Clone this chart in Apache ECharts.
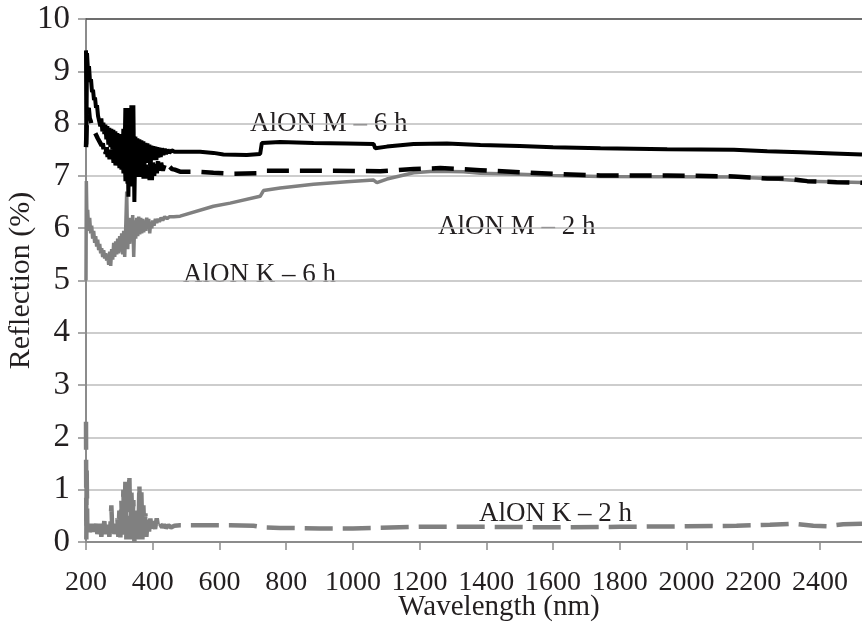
<!DOCTYPE html>
<html>
<head>
<meta charset="utf-8">
<script src="https://cdn.jsdelivr.net/npm/echarts@6/dist/echarts.min.js"></script>
<style>
  html, body { margin: 0; padding: 0; background: #fff; }
  #chart { width: 862px; height: 623px; }
</style>
</head>
<body>
<div id="chart"></div>
<script>
// AlON M - 6 h (black solid)
const m6Wl = [200, 201, 203, 206, 209, 212, 215, 218, 221, 224, 227, 230, 233, 236,
  240, 243, 246, 249, 252, 255, 258, 261, 264, 267, 270, 273, 276, 279, 282, 285, 288, 291, 294, 297,
  300, 303, 306, 309, 312, 315, 318, 321, 324, 327, 330, 333, 336, 339, 342, 345, 348, 351, 354, 357,
  360, 363, 366, 369, 372, 375, 378, 381, 384, 387, 390, 393, 396, 399, 402, 405, 408, 411, 414, 417,
  420, 424, 428, 432, 436, 440, 445, 450, 457, 465, 482, 542, 582, 612, 682, 722, 727, 782, 882, 982, 1062,
  1067, 1102, 1182, 1282, 1382, 1500, 1600, 1742, 1942, 2142, 2242, 2342, 2440, 2526];
const m6R = [9.4, 7.6, 9.35, 9.0, 9.1, 8.8, 8.85, 8.6, 8.65, 8.45, 8.5, 8.3, 8.35, 8.15,
  8.15, 7.95, 8.1, 7.85, 8.02, 7.8, 7.98, 7.7, 7.95, 7.6, 7.92, 7.55, 7.9, 7.5, 7.88, 7.45, 7.85, 7.4, 7.82, 7.35,
  7.8, 7.3, 7.78, 7.25, 7.9, 7.2, 8.3, 7.0, 8.3, 6.6, 7.85, 6.9, 8.35, 6.8, 8.35, 6.5, 7.75, 7.2, 7.72, 7.2,
  7.7, 7.22, 7.68, 7.25, 7.66, 7.2, 7.63, 7.25, 7.62, 7.3, 7.6, 7.0, 7.58, 7.3, 7.57, 7.32, 7.56, 7.3, 7.55, 7.35,
  7.54, 7.36, 7.53, 7.4, 7.52, 7.42, 7.5, 7.44, 7.49, 7.46, 7.46, 7.46, 7.44, 7.41, 7.40, 7.42, 7.63, 7.65, 7.63, 7.62, 7.61,
  7.53, 7.56, 7.61, 7.62, 7.59, 7.57, 7.55, 7.53, 7.51, 7.50, 7.47, 7.45, 7.43, 7.41];

// AlON M - 2 h (black dashed)
const m2Wl = [200, 202, 205, 208, 211, 214, 217, 220, 223, 226, 229, 232, 235, 238, 241, 244, 247, 250, 253, 256,
  259, 262, 265, 268, 271, 274, 277, 280, 283, 286, 289, 292, 295, 298, 301, 304, 307, 310, 313, 316,
  319, 322, 325, 328, 331, 334, 337, 340, 343, 346, 349, 352, 355, 358, 361, 364, 367, 370, 373, 376,
  379, 382, 385, 388, 391, 394, 397, 400, 404, 408, 412, 416, 420, 425, 430, 436, 443, 450, 458, 466,
  474, 482, 532, 582, 642, 722, 742, 882, 1082, 1182, 1262, 1382, 1500, 1600, 1742, 1942, 2142, 2242, 2302, 2362,
  2450, 2526];
const m2R = [7.55, 7.95, 8.25, 8.3, 8.1, 8.05, 7.95, 7.98, 7.88, 7.9, 7.8, 7.82, 7.72, 7.74, 7.65, 7.66, 7.58, 7.62, 7.5, 7.58,
  7.42, 7.55, 7.36, 7.52, 7.32, 7.5, 7.28, 7.48, 7.25, 7.45, 7.2, 7.42, 7.18, 7.4, 7.15, 7.38, 7.12, 7.45, 7.05, 7.5,
  6.9, 7.55, 6.85, 7.4, 6.95, 7.45, 6.9, 7.4, 7.0, 7.35, 7.0, 7.3, 6.98, 7.32, 7.0, 7.3, 6.98, 7.3, 6.95, 7.28,
  6.98, 7.3, 6.95, 7.25, 6.92, 7.25, 6.92, 7.28, 7.0, 7.3, 7.05, 7.28, 7.08, 7.25, 7.1, 7.22, 7.12, 7.18, 7.13, 7.12,
  7.1, 7.08, 7.08, 7.06, 7.04, 7.05, 7.10, 7.10, 7.09, 7.13, 7.15, 7.11, 7.07, 7.04, 7.01, 7.01, 6.99, 6.95, 6.95, 6.90,
  6.88, 6.87];

// AlON K - 6 h (grey solid)
const k6Wl = [200, 201, 203, 205, 208, 211, 214, 217, 220, 223, 226, 229, 232, 235, 238, 241, 244, 247, 250, 253,
  256, 259, 262, 265, 268, 271, 274, 277, 280, 283, 286, 289, 292, 295, 298, 301, 304, 307, 310, 313,
  316, 319, 322, 325, 328, 331, 334, 337, 340, 343, 346, 349, 352, 355, 358, 361, 364, 367, 370, 373,
  376, 379, 382, 385, 388, 391, 394, 397, 400, 404, 408, 412, 416, 420, 425, 430, 436, 443, 450, 463,
  482, 582, 632, 722, 732, 782, 882, 982, 1062, 1072, 1102, 1182, 1242, 1332, 1382, 1500, 1600, 1742, 2142, 2242,
  2362, 2526];
const k6R = [5.0, 6.9, 6.1, 6.35, 5.95, 6.2, 5.9, 6.05, 5.8, 5.95, 5.72, 5.85, 5.65, 5.78, 5.58, 5.7, 5.52, 5.62, 5.45, 5.58,
  5.42, 5.52, 5.38, 5.5, 5.3, 5.55, 5.28, 5.6, 5.4, 5.72, 5.45, 5.75, 5.5, 5.8, 5.52, 5.85, 5.55, 5.9, 5.5, 5.95,
  5.45, 6.0, 6.7, 5.6, 6.15, 5.7, 6.2, 5.75, 6.25, 5.45, 6.15, 5.8, 6.2, 5.85, 6.22, 5.88, 6.2, 5.9, 6.18, 5.92,
  6.15, 5.95, 6.2, 6.0, 6.18, 5.9, 6.12, 6.0, 6.15, 6.05, 6.18, 6.1, 6.18, 6.12, 6.2, 6.15, 6.22, 6.18, 6.22, 6.22,
  6.23, 6.42, 6.48, 6.61, 6.72, 6.77, 6.84, 6.89, 6.92, 6.87, 6.94, 7.06, 7.09, 7.08, 7.05, 7.03, 7.01, 6.99, 6.98, 6.95,
  6.90, 6.875];

// AlON K - 2 h (grey dashed)
const k2Wl = [200, 201, 202, 204, 207, 210, 213, 216, 219, 222, 225, 228, 231, 234, 237, 240, 243, 246, 249, 252,
  255, 258, 261, 264, 267, 270, 273, 276, 279, 282, 285, 288, 291, 294, 297, 300, 303, 306, 309, 312,
  315, 318, 321, 324, 327, 330, 333, 336, 339, 342, 345, 348, 351, 354, 357, 360, 363, 366, 369, 372,
  375, 378, 381, 385, 389, 393, 397, 402, 407, 412, 417, 422, 428, 434, 440, 447, 455, 465, 482, 632,
  702, 732, 782, 900, 1000, 1200, 1400, 1600, 1800, 2000, 2150, 2250, 2320, 2380, 2420, 2470, 2526];
const k2R = [2.3, 0.05, 1.4, 0.25, 0.35, 0.15, 0.3, 0.2, 0.35, 0.1, 0.3, 0.25, 0.35, 0.15, 0.3, 0.2, 0.35, 0.1, 0.3, 0.25,
  0.4, 0.15, 0.3, 0.2, 0.35, 0.1, 0.3, 0.7, 0.2, 0.35, 0.15, 0.3, 0.2, 0.45, 0.1, 0.6, 0.05, 0.8, 0.1, 1.0,
  0.2, 1.15, 0.05, 0.9, 0.15, 1.3, 0.05, 1.0, 0.3, 0.8, 0.0, 0.6, 0.1, 0.55, 0.05, 1.1, 0.2, 0.95, 0.05, 0.7,
  0.15, 0.55, 0.1, 0.45, 0.2, 0.45, 0.2, 0.4, 0.25, 0.45, 0.25, 0.35, 0.28, 0.33, 0.27, 0.32, 0.28, 0.31, 0.32, 0.32,
  0.31, 0.28, 0.27, 0.26, 0.26, 0.29, 0.29, 0.28, 0.29, 0.30, 0.31, 0.33, 0.35, 0.31, 0.30, 0.34, 0.35];

const xTicks = { min: 200, max: 2526, step: 200 };
const yTicks = { min: 0, max: 10, step: 1 };

const serif = '"Liberation Serif", "DejaVu Serif", serif';
const txt = '#231f20';

function pairs(wl, r) {
  return wl.map(function (w, i) { return [w, r[i]]; });
}

const chart = echarts.init(document.getElementById('chart'));
chart.setOption({
  animation: false,
  backgroundColor: '#fff',
  grid: { left: 86, right: 0, top: 19, bottom: 81, outerBoundsMode: 'none', containLabel: false },
  xAxis: [
    {
      type: 'value',
      min: xTicks.min,
      max: xTicks.max,
      interval: xTicks.step,
      name: 'Wavelength (nm)',
      nameLocation: 'middle',
      nameGap: 51,
      nameMoveOverlap: false,
      nameTextStyle: { fontFamily: serif, fontSize: 29, color: txt, padding: [0, 0, 0, 50] },
      axisLine: { show: true, lineStyle: { color: '#8c8c8c', width: 2 } },
      axisTick: { show: true, length: 8, lineStyle: { color: '#8c8c8c', width: 1.5 } },
      axisLabel: {
        fontFamily: serif, fontSize: 28, color: txt, margin: 27, showMaxLabel: false,
        formatter: function (v) { return String(v); },
      },
      splitLine: { show: false },
    },
    {
      type: 'value',
      position: 'top',
      min: xTicks.min,
      max: xTicks.max,
      axisLine: { show: true, lineStyle: { color: '#4d4d4d', width: 1.5 } },
      axisTick: { show: false },
      axisLabel: { show: false },
      splitLine: { show: false },
    },
  ],
  yAxis: {
    type: 'value',
    min: yTicks.min,
    max: yTicks.max,
    interval: yTicks.step,
    name: 'Reflection (%)',
    nameLocation: 'middle',
    nameGap: 50,
    nameMoveOverlap: false,
    nameTextStyle: { fontFamily: serif, fontSize: 30, color: txt },
    axisLine: { show: true, lineStyle: { color: '#8c8c8c', width: 2 } },
    axisTick: { show: true, length: 8, lineStyle: { color: '#8c8c8c', width: 1.5 } },
    axisLabel: { fontFamily: serif, fontSize: 33, color: txt, margin: 16 },
    splitLine: { show: true, lineStyle: { color: '#bdbdbd', width: 1.5 } },
  },
  series: [
    {
      name: 'AlON K – 6 h',
      type: 'line',
      data: pairs(k6Wl, k6R),
      showSymbol: false,
      lineStyle: { color: '#808080', width: 3.5 },
      z: 2,
    },
    {
      name: 'AlON K – 2 h',
      type: 'line',
      data: pairs(k2Wl, k2R),
      showSymbol: false,
      lineStyle: { color: '#808080', width: 4.5, type: [28, 10] },
      z: 2,
    },
    {
      name: 'AlON M – 2 h',
      type: 'line',
      data: pairs(m2Wl, m2R),
      showSymbol: false,
      lineStyle: { color: '#000', width: 4.5, type: [22, 11] },
      z: 3,
    },
    {
      name: 'AlON M – 6 h',
      type: 'line',
      data: pairs(m6Wl, m6R),
      showSymbol: false,
      lineStyle: { color: '#000', width: 4 },
      z: 3,
    },
  ],
  graphic: [
    { type: 'text', left: 250, top: 110, style: { text: 'AlON M – 6 h', font: '27px ' + serif, fill: txt } },
    { type: 'text', left: 438, top: 213, style: { text: 'AlON M – 2 h', font: '27px ' + serif, fill: txt } },
    { type: 'text', left: 183, top: 261, style: { text: 'AlON K – 6 h', font: '27px ' + serif, fill: txt } },
    { type: 'text', left: 479, top: 500, style: { text: 'AlON K – 2 h', font: '27px ' + serif, fill: txt } },
  ],
});
</script>
</body>
</html>
